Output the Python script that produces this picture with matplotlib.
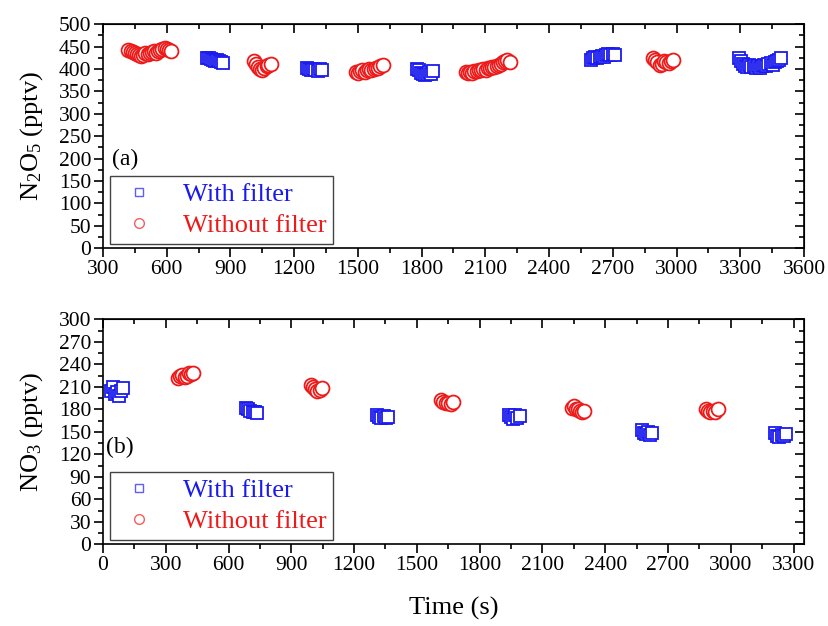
import matplotlib
matplotlib.use("Agg")
import matplotlib.pyplot as plt
from matplotlib.ticker import MultipleLocator

plt.rcParams['font.family'] = ['Liberation Serif', 'DejaVu Serif']
plt.rcParams['mathtext.fontset'] = 'custom'
plt.rcParams['mathtext.rm'] = 'Liberation Serif'
plt.rcParams['mathtext.it'] = 'Liberation Serif:italic'

# ---------------- data: panel (a) N2O5 ----------------
n2o5_with_t = [790, 800, 809, 819, 828, 838, 847, 857, 866,
               1260, 1270, 1280, 1290, 1300, 1310, 1320, 1329,
               1778, 1788, 1797, 1807, 1816, 1826, 1835, 1845, 1854,
               2597, 2607, 2617, 2627, 2638, 2648, 2658, 2668, 2678, 2688, 2699, 2709,
               3293, 3303, 3313, 3323, 3333, 3343, 3353, 3363, 3373, 3383, 3393,
               3403, 3413, 3423, 3433, 3443, 3453, 3463, 3473, 3483, 3494]
n2o5_with = [425, 424, 422, 420, 418, 421, 419, 416, 413,
             402, 400, 398, 401, 399, 396, 400, 398,
             400, 398, 392, 388, 386, 390, 393, 390, 396,
             420, 425, 428, 424, 427, 430, 428, 432, 434, 431, 433, 431,
             425, 418, 412, 408, 405, 410, 404, 407, 403, 406, 402,
             408, 410, 406, 412, 414, 410, 416, 418, 420, 425]

n2o5_without_t = [420, 430, 440, 450, 460, 470, 480, 490, 500, 510, 520,
                  530, 540, 550, 560, 570, 580, 590, 600, 610, 620,
                  1011, 1021, 1031, 1040, 1050, 1060, 1070, 1079, 1089,
                  1490, 1500, 1511, 1521, 1532, 1542, 1553, 1563, 1574, 1584, 1595, 1605, 1616,
                  2008, 2018, 2029, 2039, 2049, 2060, 2070, 2080, 2091, 2101, 2111,
                  2122, 2132, 2142, 2153, 2163, 2173, 2184, 2194, 2204, 2215,
                  2888, 2899, 2909, 2920, 2931, 2941, 2952, 2963, 2973, 2984]
n2o5_without = [442, 440, 438, 436, 434, 432, 430, 432, 435, 433, 436,
                438, 440, 437, 440, 443, 445, 446, 444, 442, 441,
                418, 412, 405, 400, 398, 403, 406, 410, 411,
                393, 392, 395, 397, 394, 398, 400, 397, 401, 403, 402, 406, 409,
                393, 391, 394, 392, 396, 395, 398, 397, 400, 399, 403,
                402, 405, 404, 408, 410, 412, 415, 418, 420, 415,
                425, 420, 415, 410, 412, 418, 416, 414, 419, 420]

# ---------------- data: panel (b) NO3 ----------------
no3_with_t = [40, 49, 58, 67, 76, 85, 94,
              684, 694, 704, 715, 725, 735,
              1309, 1320, 1331, 1341, 1352, 1363,
              1939, 1950, 1960, 1971, 1981, 1992,
              2574, 2584, 2594, 2603, 2613, 2623,
              3210, 3221, 3232, 3243, 3254, 3265]
no3_with = [205, 210, 200, 203, 198, 205, 208,
            182, 180, 178, 177, 176, 175,
            172, 170, 168, 171, 169, 170,
            173, 170, 167, 172, 169, 171,
            152, 149, 147, 150, 146, 148,
            148, 145, 143, 146, 144, 147]

no3_without_t = [360, 370, 380, 390, 400, 410, 420, 430,
                 994, 1004, 1014, 1025, 1035, 1045,
                 1615, 1627, 1639, 1650, 1662, 1674,
                 2240, 2250, 2260, 2270, 2280, 2290, 2299,
                 2880, 2892, 2903, 2915, 2926, 2938]
no3_without = [222, 224, 226, 223, 225, 228, 227, 228,
               212, 210, 207, 205, 206, 208,
               192, 190, 188, 189, 187, 190,
               182, 184, 180, 181, 178, 177, 178,
               180, 178, 176, 178, 177, 180]

labels = ["With filter", "Without filter"]
BLUE = "#1a1aee"
RED = "#ee1a1a"

fig = plt.figure(figsize=(8.29, 6.26), dpi=100)
ax1 = fig.add_axes([0.1242, 0.6034, 0.8456, 0.3578])
ax2 = fig.add_axes([0.1242, 0.1305, 0.8456, 0.3594])


def style_axes(ax, xlim, xmaj, ylim, ymaj):
    ax.set_xlim(*xlim)
    ax.set_ylim(*ylim)
    ax.xaxis.set_major_locator(MultipleLocator(xmaj))
    ax.xaxis.set_minor_locator(MultipleLocator(xmaj / 2))
    ax.yaxis.set_major_locator(MultipleLocator(ymaj))
    ax.yaxis.set_minor_locator(MultipleLocator(ymaj / 2))
    for s in ax.spines.values():
        s.set_linewidth(1.2)
    ax.tick_params(which='major', direction='out', length=6.5, width=1.2,
                   labelsize=15.5, pad=2)
    ax.tick_params(which='minor', direction='out', length=3.6, width=1.2)
    # mirrored ticks pointing inwards on top and right
    sx = ax.secondary_xaxis('top')
    sx.xaxis.set_major_locator(MultipleLocator(xmaj))
    sx.xaxis.set_minor_locator(MultipleLocator(xmaj / 2))
    sx.tick_params(which='major', direction='in', length=6.5, width=1.2, labeltop=False)
    sx.tick_params(which='minor', direction='in', length=3.6, width=1.2)
    sy = ax.secondary_yaxis('right')
    sy.yaxis.set_major_locator(MultipleLocator(ymaj))
    sy.yaxis.set_minor_locator(MultipleLocator(ymaj / 2))
    sy.tick_params(which='major', direction='in', length=6.5, width=1.2, labelright=False)
    sy.tick_params(which='minor', direction='in', length=3.6, width=1.2)


def draw(ax, wt, wv, ot, ov):
    ax.plot(wt, wv, ls='none', marker='s', ms=8, mfc='white', mec=BLUE,
            mew=1.3, label=labels[0])
    ax.plot(ot, ov, ls='none', marker='o', ms=10, mfc='white', mec=RED,
            mew=1.3, label=labels[1])
    leg = ax.legend(loc='lower left', bbox_to_anchor=(0.01, 0.019),
                    borderaxespad=0, fancybox=False, framealpha=1,
                    edgecolor='#444444', fontsize=19, markerscale=0.7,
                    handletextpad=0.8, borderpad=0.25, labelspacing=0.3,
                    handlelength=1.7, labelcolor=[BLUE, RED])
    leg.get_frame().set_linewidth(1.0)
    for h in leg.legend_handles:
        h.set_alpha(0.7)
        h.set_markeredgewidth(1.0)


draw(ax1, n2o5_with_t, n2o5_with, n2o5_without_t, n2o5_without)
style_axes(ax1, (300, 3600), 300, (0, 500), 50)
ax1.set_ylabel(r"N$_\mathregular{2}$O$_\mathregular{5}$ (pptv)", fontsize=19, labelpad=10)
ax1.text(0.013, 0.395, "(a)", transform=ax1.transAxes, fontsize=17, va='center')

draw(ax2, no3_with_t, no3_with, no3_without_t, no3_without)
style_axes(ax2, (0, 3350), 300, (0, 300), 30)
ax2.set_ylabel(r"NO$_\mathregular{3}$ (pptv)", fontsize=19, labelpad=10)
ax2.set_xlabel("Time (s)", fontsize=19, labelpad=16)
ax2.text(0.005, 0.43, "(b)", transform=ax2.transAxes, fontsize=17, va='center')

fig.savefig("out.png", dpi=100)
